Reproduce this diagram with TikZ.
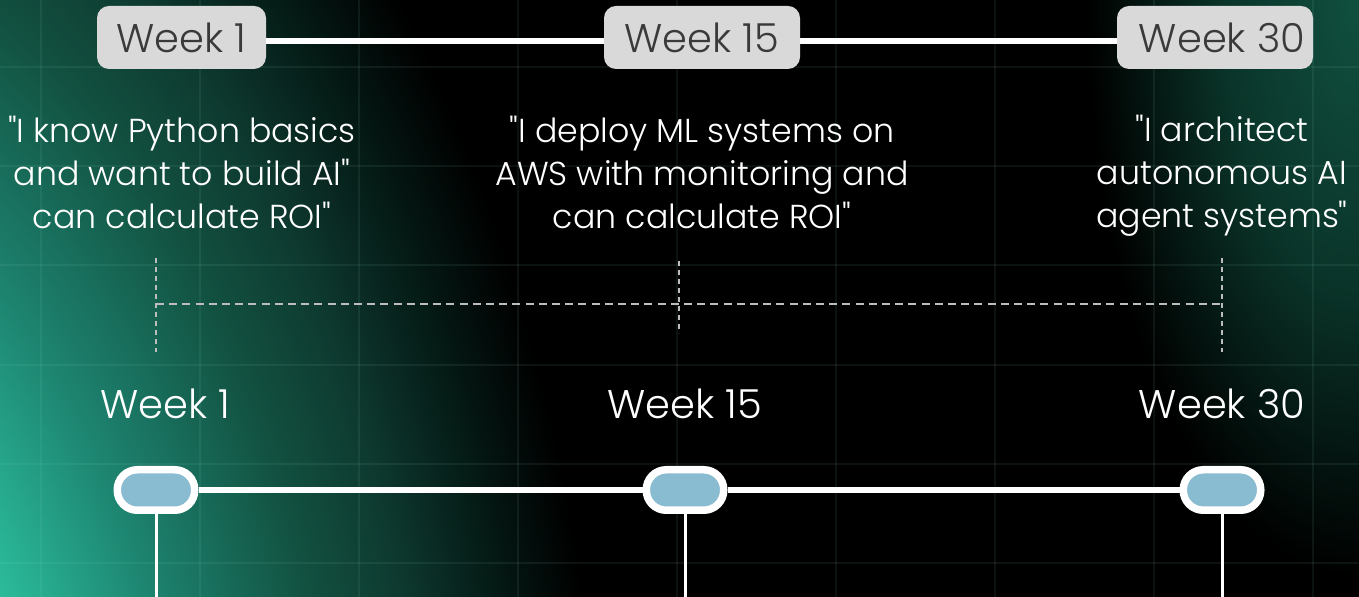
\documentclass[tikz,border=0pt]{standalone}
\usepackage{fontspec}
\setmainfont{Poppins}[UprightFont=* Light, Ligatures=TeXOff]
\usetikzlibrary{positioning}

\definecolor{boxgray}{HTML}{D9D9D9}
\definecolor{boxtext}{HTML}{3A3A3A}
\definecolor{pillblue}{HTML}{8ABCD1}
\definecolor{guidegray}{HTML}{BDBDBD}
\definecolor{gridtint}{HTML}{9FE8D4}
\definecolor{glowA}{HTML}{34D0AD}
\definecolor{glowB}{HTML}{2BBB9B}
\definecolor{glowC}{HTML}{1D8470}
\definecolor{glowD}{HTML}{125040}
\definecolor{glowE}{HTML}{0E3A30}
\definecolor{glowF}{HTML}{06201A}
\definecolor{glowG}{HTML}{10503F}
\definecolor{glowH}{HTML}{0A3429}

% the edge of the shaded path sits at 25bp
\pgfdeclareradialshading{glowleft}{\pgfpoint{0bp}{0bp}}{color(0bp)=(glowA);color(9.5bp)=(glowB);color(13bp)=(glowC);color(17bp)=(glowD);color(19.25bp)=(glowE);color(21.25bp)=(glowF);color(24bp)=(black);color(25bp)=(black);color(50bp)=(black)}
\pgfdeclareradialshading{glowright}{\pgfpoint{0bp}{0bp}}{color(0bp)=(glowG);color(10bp)=(glowH);color(20bp)=(black);color(25bp)=(black);color(50bp)=(black)}

\begin{document}
\begin{tikzpicture}[x=0.5pt, y=-0.5pt,
  weekbox/.style={fill=boxgray, rounded corners=6pt, minimum height=31.5pt, inner sep=0pt,
    text=boxtext, font=\fontsize{20}{24}\selectfont},
  quote/.style={text=white, align=center, inner sep=0pt, font=\fontsize{16.6}{21.5}\selectfont},
  weeklabel/.style={text=white, inner sep=0pt, font=\fontsize{20}{24}\selectfont},
  pill/.style={draw=white, line width=3.75pt, fill=pillblue, minimum width=38.75pt,
    minimum height=20.25pt, rounded corners=10pt, inner sep=0pt},
  guide/.style={guidegray, line width=0.6pt, dash pattern=on 2.5pt off 2pt}]
\useasboundingbox (0,0) rectangle (1359,597);

% Background
\fill[black] (0,0) rectangle (1359,597);
\begin{scope}
  \clip (0,0) rectangle (1359,597);
  \shade[shading=glowleft] (-300,900) ellipse (941 and 1477);
  \shade[shading=glowright] (1359,0) ellipse (340 and 720);
\end{scope}

% Grid
\foreach \gx in {41,200,...,1313}
  \draw[gridtint, opacity=0.08, line width=0.75pt] (\gx,0) -- (\gx,597);
\foreach \gy in {67,166,265,365,464,563}
  \draw[gridtint, opacity=0.08, line width=0.75pt] (0,\gy) -- (1359,\gy);

% Top timeline
\node[weekbox, minimum width=84.5pt] (top1) at (181.5,37.5) {Week 1};
\node[weekbox, minimum width=98pt] (top2) at (702,37.5) {Week 15};
\node[weekbox, minimum width=98pt] (top3) at (1215,37.5) {\hspace*{7pt}Week 30};
\draw[white, line width=3pt] ([yshift=-1.75pt]top1.east) -- ([yshift=-1.75pt]top2.west);
\draw[white, line width=3pt] ([yshift=-1.75pt]top2.east) -- ([yshift=-1.75pt]top3.west);

% Quotes
\node[quote] (quote1) at (182,172) {"I know Python basics\\and want to build AI"\\can calculate ROI"};
\node[quote] (quote2) at (702,172) {"I deploy ML systems on\\AWS with monitoring and\\can calculate ROI"};
\node[quote] (quote3) at (1222,176) {"I architect\\autonomous AI\\agent systems"};

% Dashed guides
\coordinate (g1a) at (156,258);
\coordinate (g1b) at (156,352);
\coordinate (g2a) at (679,261);
\coordinate (g2b) at (679,333);
\coordinate (g3a) at (1222,258);
\coordinate (g3b) at (1222,352);
\coordinate (h1) at (156,304);
\coordinate (h2) at (1222,304);
\draw[guide] (g1a) -- (g1b);
\draw[guide] (g2a) -- (g2b);
\draw[guide] (g3a) -- (g3b);
\draw[guidegray, line width=1pt, dash pattern=on 4pt off 2.6pt] (h1) -- (h2);

% Bottom labels
\node[weeklabel] (label1) at (165,404) {Week 1};
\node[weeklabel] (label2) at (685,404) {Week 15};
\node[weeklabel] (label3) at (1222,404) {Week 30};

% Bottom timeline
\node[pill] (pill1) at (156,490) {};
\node[pill] (pill2) at (685,490) {};
\node[pill] (pill3) at (1222,490) {};
\draw[white, line width=3.25pt] (pill1) -- (pill2);
\draw[white, line width=3.25pt] (pill2) -- (pill3);
\coordinate (stem1) at (156,597);
\coordinate (stem2) at (685,597);
\coordinate (stem3) at (1222,597);
\draw[white, line width=1.5pt] (pill1) -- (stem1);
\draw[white, line width=1.5pt] (pill2) -- (stem2);
\draw[white, line width=1.5pt] (pill3) -- (stem3);

\end{tikzpicture}
\end{document}
